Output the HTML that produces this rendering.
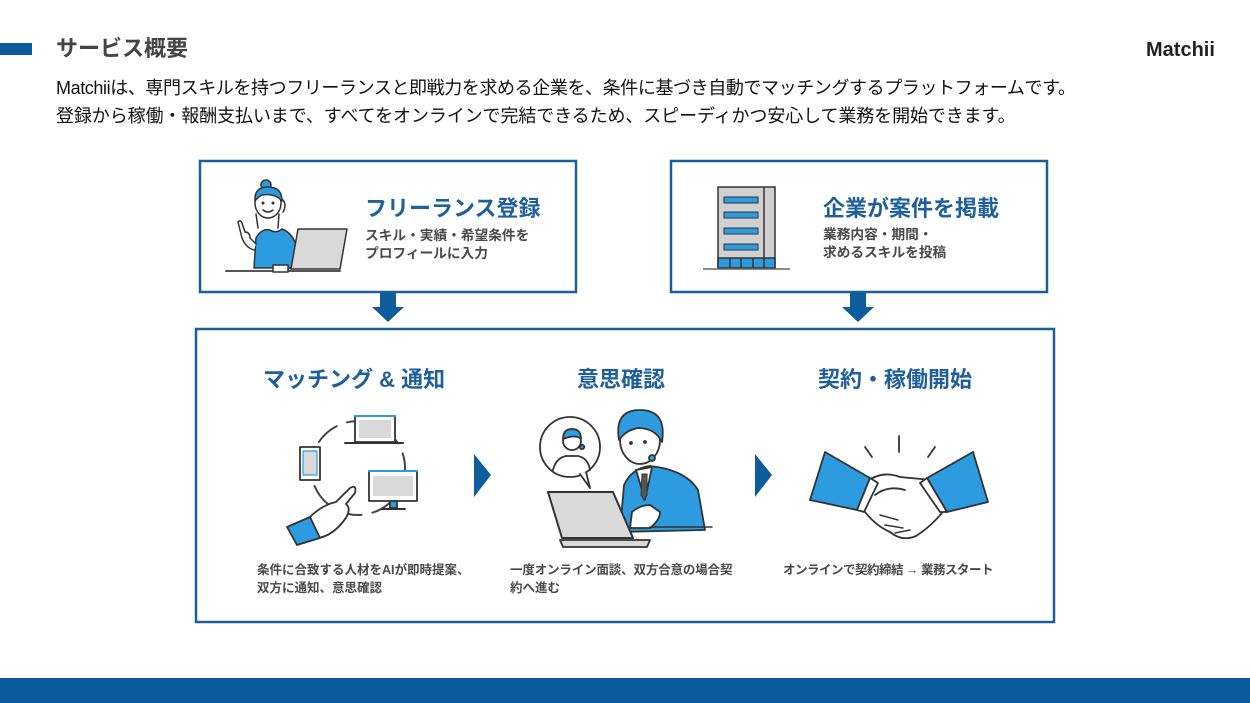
<!DOCTYPE html>
<html><head><meta charset="utf-8">
<style>
html,body{margin:0;padding:0;background:#fff;}
body{width:1250px;height:703px;position:relative;overflow:hidden;font-family:"Liberation Sans","Noto Sans CJK JP",sans-serif;}
.t{position:absolute;white-space:nowrap;line-height:1;}
.h{font-size:22px;font-weight:700;color:#1e5f9c;}
.s{font-size:13.7px;font-weight:700;color:#4a4a4a;}
.d{font-size:12.5px;font-weight:700;color:#4a4a4a;}
svg{position:absolute;left:0;top:0;}
</style></head><body>
<svg width="1250" height="703" viewBox="0 0 1250 703" xmlns="http://www.w3.org/2000/svg">
  <!-- header bar -->
  <rect x="0" y="43" width="32" height="12" fill="#0b5a9a"/>
  <!-- bottom bar -->
  <rect x="0" y="678" width="1250" height="25" fill="#0b5a9a"/>
  <!-- top boxes -->
  <rect x="200" y="161" width="376" height="131" fill="none" stroke="#1b5e98" stroke-width="2.5"/>
  <rect x="671" y="161" width="376" height="131" fill="none" stroke="#1b5e98" stroke-width="2.5"/>
  <!-- big box -->
  <rect x="196" y="329" width="858" height="293" fill="none" stroke="#1b5e98" stroke-width="2.5"/>
  <!-- down arrows -->
  <polygon points="380,293 396,293 396,307 404,307 388,322 372,307 380,307" fill="#0d5c9c"/>
  <polygon points="850,293 866,293 866,307 874,307 858,322 842,307 850,307" fill="#0d5c9c"/>
  <!-- right triangles -->
  <polygon points="474,454 491,475 474,497" fill="#0d5c9c"/>
  <polygon points="755,454 772,475 755,497" fill="#0d5c9c"/>

  <!-- woman illustration -->
  <g stroke="#333" stroke-width="1.5" stroke-linejoin="round" stroke-linecap="round">
    <circle cx="266" cy="185" r="5" fill="#2d9be0"/>
    <path d="M258,228 L256,214" fill="none"/>
    <path d="M278,228 L279,214" fill="none"/>
    <ellipse cx="268" cy="203" rx="13" ry="15" fill="#fff"/>
    <path d="M255,201 Q254,187 268,187 Q282,187 282,201 Q275,193 262,195 Q258,197 255,201 Z" fill="#2d9be0"/>
    <path d="M283,200 Q287,205 283,212" fill="none"/>
    <circle cx="263" cy="203" r="0.8" fill="#333"/>
    <circle cx="273" cy="203" r="0.8" fill="#333"/>
    <path d="M263,210 Q268,214 273,210" fill="none"/>
    <path d="M254,268 L256,238 Q262,228 270,230 Q276,234 282,229 Q293,233 297,248 L297,268 Z" fill="#2d9be0"/>
    <path d="M254,250 Q246,248 242,238 L238,222 Q240,219 242,223 L245,232 Q250,232 250,238 L256,244" fill="#fff"/>
    <polygon points="298,229 347,229 340,269 291,269" fill="#d9d9d9"/>
    <line x1="226" y1="271" x2="340" y2="271" stroke="#555" stroke-width="2"/>
    <rect x="273" y="265" width="15" height="7" fill="#fff"/>
  </g>

  <!-- building -->
  <g stroke="#333" stroke-width="1.5">
    <rect x="718" y="187" width="57" height="81" fill="#d0d0d0"/>
    <line x1="764" y1="187" x2="764" y2="258"/>
    <rect x="724" y="197" width="34" height="6" fill="#2d9be0" stroke-width="1"/>
    <rect x="724" y="212" width="34" height="6" fill="#2d9be0" stroke-width="1"/>
    <rect x="724" y="228" width="34" height="6" fill="#2d9be0" stroke-width="1"/>
    <rect x="724" y="244" width="34" height="6" fill="#2d9be0" stroke-width="1"/>
    <rect x="718" y="258" width="57" height="10" fill="#2d9be0"/>
    <line x1="730" y1="258" x2="730" y2="268"/>
    <line x1="741" y1="258" x2="741" y2="268"/>
    <line x1="753" y1="258" x2="753" y2="268"/>
    <line x1="764" y1="258" x2="764" y2="268"/>
    <line x1="703" y1="269" x2="790" y2="269" stroke="#666" stroke-width="1.5"/>
  </g>

  <!-- matching illustration -->
  <g stroke="#333" stroke-width="1.8" stroke-linejoin="round" stroke-linecap="round">
    <circle cx="358" cy="468" r="47" fill="none" stroke="#444" stroke-width="2" stroke-dasharray="24 11"/>
    <rect x="355" y="416" width="40" height="26" fill="#fff"/>
    <line x1="355" y1="416" x2="395" y2="416" stroke="#2d9be0" stroke-width="2"/>
    <polygon points="359,420 391,420 391,438 359,438" fill="#d9d9d9" stroke="none"/>
    <line x1="345" y1="443" x2="403" y2="443" stroke-width="2"/>
    <rect x="300" y="447" width="20" height="33" fill="#fff"/>
    <rect x="303" y="451" width="14" height="24" fill="#d9d9d9" stroke="#2d9be0" stroke-width="1.2"/>
    <rect x="369" y="471" width="48" height="30" fill="#fff"/>
    <line x1="369" y1="471" x2="417" y2="471" stroke="#2d9be0" stroke-width="2"/>
    <rect x="373" y="476" width="40" height="20" fill="#d9d9d9" stroke="none"/>
    <rect x="390" y="501" width="7" height="7" fill="#2d9be0"/>
    <line x1="382" y1="509" x2="405" y2="509" stroke-width="2"/>
    <path d="M310,517 Q322,505 336,502 L350,488 Q357,484 355,493 L346,504 Q353,510 342,523 Q332,535 319,538 Z" fill="#fff"/>
    <polygon points="287,527 310,517 320,538 297,545" fill="#2d9be0"/>
  </g>

  <!-- intent illustration -->
  <g stroke="#333" stroke-width="1.8" stroke-linejoin="round" stroke-linecap="round">
    <circle cx="570" cy="447" r="30" fill="#fff"/>
    <path d="M580,474 L590,488 L586,472" fill="#fff"/>
    <path d="M553,470 Q556,458 566,456 L578,456 Q588,458 590,470" fill="none"/>
    <circle cx="572" cy="441" r="9" fill="#fff"/>
    <path d="M563,439 Q563,429 572,429 Q581,429 581,439 Q576,434 563,439 Z" fill="#2d9be0"/>
    <circle cx="582" cy="447" r="2.2" fill="#2d9be0"/>
    <path d="M620,532 L624,485 Q632,468 650,466 Q686,470 698,490 L705,530 Z" fill="#2d9be0"/>
    <polygon points="636,470 652,467 645,500" fill="#fff"/>
    <polygon points="642,474 647,474 647,495 644,500 641,495" fill="#555" stroke-width="1"/>
    <ellipse cx="640" cy="440" rx="20" ry="24" fill="#fff"/>
    <path d="M619,440 Q614,410 640,410 Q667,410 662,442 Q655,428 638,428 Q626,430 619,440 Z" fill="#2d9be0"/>
    <circle cx="652" cy="458" r="3" fill="#2d9be0"/>
    <circle cx="631" cy="443" r="1" fill="#333"/>
    <circle cx="645" cy="442" r="1" fill="#333"/>
    <path d="M650,505 Q640,505 632,512 L630,528 L650,528 Q660,520 660,512 Z" fill="#fff"/>
    <polygon points="548,492 613,492 633,538 562,538" fill="#d9d9d9" stroke-width="2"/>
    <polygon points="560,540 650,540 647,547 563,547" fill="#d9d9d9"/>
    <line x1="650" y1="527" x2="712" y2="527" stroke-width="1.5"/>
  </g>

  <!-- handshake -->
  <g stroke="#333" stroke-width="1.8" stroke-linejoin="round" stroke-linecap="round">
    <line x1="899" y1="436" x2="899" y2="452"/>
    <line x1="865" y1="447" x2="872" y2="457"/>
    <line x1="935" y1="447" x2="928" y2="457"/>
    <path d="M866,482 Q882,470 900,477 L932,480 L946,508 Q932,526 916,536 Q902,542 890,532 Q874,525 862,508 Z" fill="#fff"/>
    <path d="M875,495 Q888,485 905,490" fill="none"/>
    <path d="M880,515 L898,520 M885,525 L903,528 M895,533 L910,530" fill="none" stroke-width="1.5"/>
    <polygon points="825,452 870,478 857,510 810,500" fill="#2d9be0"/>
    <polygon points="973,452 988,502 947,512 927,478" fill="#2d9be0"/>
    <polygon points="870,478 878,483 864,512 857,510" fill="#fff"/>
    <polygon points="927,478 920,483 940,512 947,512" fill="#fff"/>
  </g>
</svg>

<div class="t" style="left:56px;top:38px;font-size:22px;font-weight:700;color:#444;">サービス概要</div>
<div class="t" style="left:1146px;top:40px;font-size:20px;font-weight:700;color:#222;">Matchii</div>
<div class="t" style="left:56px;top:79px;font-size:18px;color:#111;letter-spacing:-0.4px;">Matchiiは、専門スキルを持つフリーランスと即戦力を求める企業を、条件に基づき自動でマッチングするプラットフォームです。</div>
<div class="t" style="left:56px;top:107px;font-size:18px;color:#111;letter-spacing:-0.1px;">登録から稼働・報酬支払いまで、すべてをオンラインで完結できるため、スピーディかつ安心して業務を開始できます。</div>

<div class="t h" style="left:365px;top:198px;">フリーランス登録</div>
<div class="t s" style="left:365px;top:229px;">スキル・実績・希望条件を</div>
<div class="t s" style="left:365px;top:247px;">プロフィールに入力</div>

<div class="t h" style="left:823px;top:198px;">企業が案件を掲載</div>
<div class="t s" style="left:823px;top:228px;">業務内容・期間・</div>
<div class="t s" style="left:823px;top:246px;">求めるスキルを投稿</div>

<div class="t h" style="left:263px;top:369px;">マッチング &amp; 通知</div>
<div class="t h" style="left:577px;top:369px;">意思確認</div>
<div class="t h" style="left:818px;top:369px;">契約・稼働開始</div>

<div class="t d" style="left:257px;top:564px;">条件に合致する人材をAIが即時提案、</div>
<div class="t d" style="left:257px;top:582px;">双方に通知、意思確認</div>
<div class="t d" style="left:510px;top:564px;letter-spacing:-0.15px;">一度オンライン面談、双方合意の場合契</div>
<div class="t d" style="left:510px;top:582px;">約へ進む</div>
<div class="t d" style="left:783px;top:564px;letter-spacing:-0.5px;">オンラインで契約締結 → 業務スタート</div>
</body></html>
